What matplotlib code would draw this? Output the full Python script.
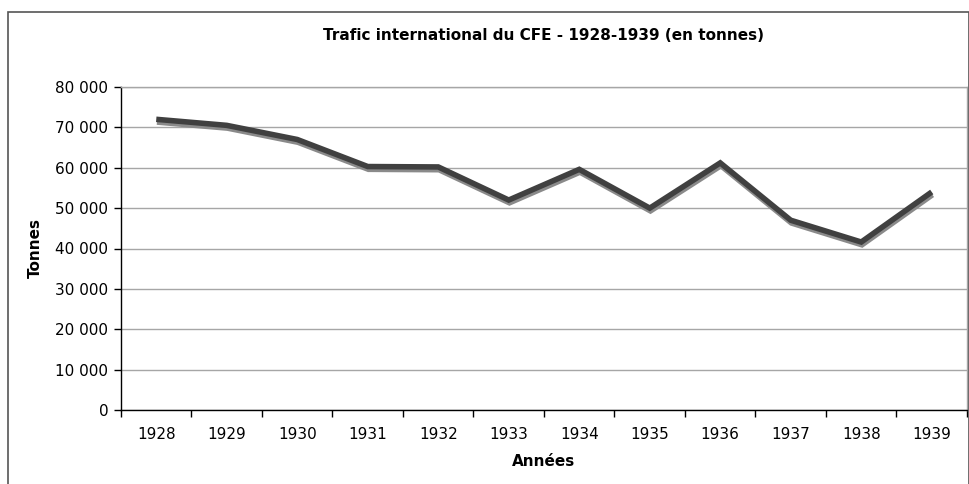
import numpy as np
import matplotlib
matplotlib.use("Agg")
import matplotlib.pyplot as plt
import matplotlib.patheffects as pe
from matplotlib.patches import Rectangle
from matplotlib.ticker import FuncFormatter, MultipleLocator

plt.rcParams["font.family"] = ["DejaVu Sans"]

# Data
years = ["1928", "1929", "1930", "1931", "1932", "1933",
         "1934", "1935", "1936", "1937", "1938", "1939"]
tonnes = [72000, 70500, 67000, 60300, 60200, 52000,
          59600, 50000, 61200, 47000, 41600, 54000]

W, H = 970, 484
fig = plt.figure(figsize=(W / 100, H / 100), dpi=100)
fig.patch.set_facecolor("white")

# Outer chart border (cut at right/bottom like the original)
fig.patches.append(Rectangle((8 / W, -0.05), (961) / W, 1.05 - 12 / H,
                             transform=fig.transFigure, fill=False,
                             edgecolor="#555555", linewidth=1.2))

left, right, top, bottom = 121, 967, 87, 410
ax = fig.add_axes([left / W, 1 - bottom / H, (right - left) / W, (bottom - top) / H])

x = np.arange(len(years))
ax.plot(x, tonnes, color="#404040", linewidth=4.0, solid_joinstyle="miter",
        solid_capstyle="butt", zorder=3,
        path_effects=[pe.SimpleLineShadow(offset=(0.5, -2.0), shadow_color="#8a8a8a",
                                          alpha=1.0, linewidth=4.0),
                      pe.Normal()])

ax.set_xlim(-0.5, len(years) - 0.5)
ax.set_ylim(0, 80000)

ax.yaxis.set_major_locator(MultipleLocator(10000))
ax.yaxis.set_major_formatter(FuncFormatter(lambda v, p: f"{int(v):,}".replace(",", " ")))
ax.grid(axis="y", color="#a6a6a6", linewidth=1.0)
ax.set_axisbelow(True)

ax.set_xticks(x)
ax.set_xticklabels(years)
ax.set_xticks(np.arange(-0.5, len(years)), minor=True)
ax.tick_params(axis="x", which="major", length=0, pad=12, labelsize=11, colors="black")
ax.tick_params(axis="x", which="minor", length=5, width=1, direction="out", color="black")
ax.tick_params(axis="y", length=5, width=1, pad=4, labelsize=11, colors="black")

for s in ["left", "bottom"]:
    ax.spines[s].set_color("black")
    ax.spines[s].set_linewidth(1.0)
for s in ["top", "right"]:
    ax.spines[s].set_color("#a6a6a6")
    ax.spines[s].set_linewidth(1.0)

ax.set_xlabel("Années", fontsize=11, fontweight="bold", labelpad=9)
ax.set_ylabel("Tonnes", fontsize=11, fontweight="bold", labelpad=9)

fig.text((left + right) / 2 / W, 1 - 36 / H, "Trafic international du CFE - 1928-1939 (en tonnes)",
         ha="center", va="center", fontsize=11, fontweight="bold")

fig.savefig("out.png", dpi=100, facecolor="white")
